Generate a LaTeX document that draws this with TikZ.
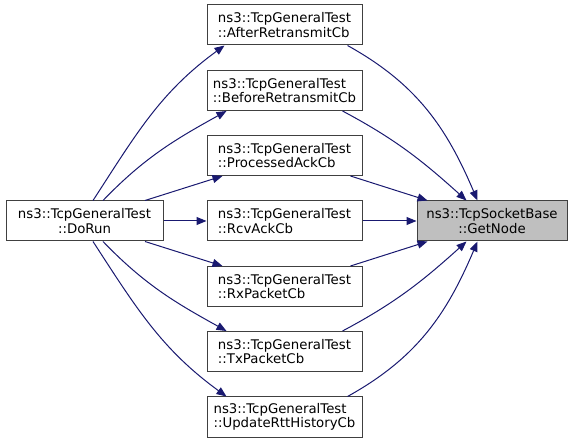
\documentclass[tikz,border=0pt]{standalone}
\usepackage{fontspec}
\setmainfont{DejaVu Sans}
\usetikzlibrary{arrows.meta}
\definecolor{edgeblue}{HTML}{191970}
\definecolor{boxline}{HTML}{404040}
\definecolor{hilite}{HTML}{BFBFBF}
\tikzset{
  box/.style={draw=boxline, line width=1pt, fill=white, minimum height=40pt, inner xsep=4pt, inner ysep=2pt,
    font=\fontsize{13.3}{14.5}\selectfont},
  midbox/.style={box, minimum width=155pt, align=left},
  edge/.style={draw=edgeblue, line width=1pt, -{Triangle[length=10pt,width=8pt]}}
}
\begin{document}
\begin{tikzpicture}[x=1pt,y=1pt]
\useasboundingbox (0,0) rectangle (573,-443);
\node[box, minimum width=157pt, align=center] (DoRun) at (84.5,-221) {ns3::TcpGeneralTest\\::DoRun};
\node[midbox] (After) at (284.5,-25) {ns3::TcpGeneralTest\\::AfterRetransmitCb};
\node[midbox] (Before) at (284.5,-90.5) {ns3::TcpGeneralTest\\::BeforeRetransmitCb};
\node[midbox] (Processed) at (284.5,-155.5) {ns3::TcpGeneralTest\\::ProcessedAckCb};
\node[midbox] (RcvAck) at (284.5,-221) {ns3::TcpGeneralTest\\::RcvAckCb};
\node[midbox] (Rx) at (284.5,-286.5) {ns3::TcpGeneralTest\\::RxPacketCb};
\node[midbox] (Tx) at (284.5,-351.5) {ns3::TcpGeneralTest\\::TxPacketCb};
\node[midbox] (Update) at (284.5,-417) {ns3::TcpGeneralTest\\::UpdateRttHistoryCb};
\node[box, fill=hilite, minimum width=150pt, align=center] (GetNode) at (492,-221) {ns3::TcpSocketBase\\::GetNode};

\draw[edge] ([xshift=8.5pt]DoRun.north) to[out=57,in=216] ([xshift=18pt]After.south west);
\draw[edge] ([xshift=18.5pt]DoRun.north) to[out=46,in=209] ([xshift=20pt]Before.south west);
\draw[edge] ([xshift=60.5pt]DoRun.north) -- ([xshift=16pt]Processed.south west);
\draw[edge] (DoRun) -- (RcvAck);
\draw[edge] ([xshift=60.5pt]DoRun.south) -- ([xshift=16pt]Rx.north west);
\draw[edge] ([xshift=18.5pt]DoRun.south) to[out=-46,in=151] ([xshift=20pt]Tx.north west);
\draw[edge] ([xshift=8.5pt]DoRun.south) to[out=-57,in=144] ([xshift=20pt]Update.north west);

\draw[edge] ([xshift=-15pt]After.south east) to[out=-29,in=113] ([xshift=61pt]GetNode.north west);
\draw[edge] ([xshift=-20pt]Before.south east) to[out=-28,in=138] ([xshift=50pt]GetNode.north west);
\draw[edge] ([xshift=-12pt]Processed.south east) -- ([xshift=11pt]GetNode.north west);
\draw[edge] (RcvAck) -- (GetNode);
\draw[edge] ([xshift=-12pt]Rx.north east) -- ([xshift=11pt]GetNode.south west);
\draw[edge] ([xshift=-20pt]Tx.north east) to[out=28,in=-138] ([xshift=50pt]GetNode.south west);
\draw[edge] ([xshift=-15pt]Update.north east) to[out=29,in=-113] ([xshift=61pt]GetNode.south west);
\end{tikzpicture}
\end{document}
